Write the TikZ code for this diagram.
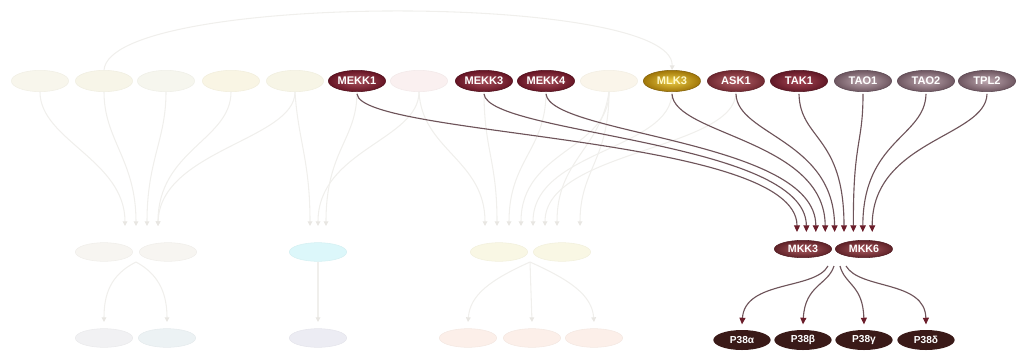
\documentclass[tikz,border=0pt]{standalone}
\usepackage{fontspec}
\setmainfont{Liberation Sans}
\usetikzlibrary{shapes.geometric,arrows.meta}
\definecolor{linec}{HTML}{6E545A}
\definecolor{tipc}{HTML}{6B1D2A}
\definecolor{fadeline}{HTML}{F0EFEC}
\definecolor{fadetip}{HTML}{E8E6E2}
\definecolor{mekkin}{HTML}{A8505C}
\definecolor{mekkout}{HTML}{661424}
\definecolor{mekkdr}{HTML}{4E0E1A}
\definecolor{mlkin}{HTML}{ECCC46}
\definecolor{mlkout}{HTML}{A07608}
\definecolor{mlkdr}{HTML}{82600A}
\definecolor{mlktx}{HTML}{FFFAC8}
\definecolor{askin}{HTML}{B6626A}
\definecolor{askout}{HTML}{702830}
\definecolor{askdr}{HTML}{5C1E26}
\definecolor{takin}{HTML}{A84654}
\definecolor{takout}{HTML}{601826}
\definecolor{takdr}{HTML}{50141E}
\definecolor{taoin}{HTML}{BEA8B0}
\definecolor{taoout}{HTML}{6E5660}
\definecolor{taodr}{HTML}{5A4650}
\definecolor{mkkin}{HTML}{AA5A60}
\definecolor{mkkout}{HTML}{602228}
\definecolor{mkkdr}{HTML}{501C22}
\definecolor{pttc}{HTML}{3A1A18}
\definecolor{fa}{HTML}{F8F6EC}
\definecolor{fb}{HTML}{F7F5E8}
\definecolor{fc}{HTML}{F6F6EE}
\definecolor{fd}{HTML}{F9F5E4}
\definecolor{fe}{HTML}{F7F5E6}
\definecolor{ff}{HTML}{FAF0F0}
\definecolor{fg}{HTML}{FAF5EA}
\definecolor{ma}{HTML}{F7F5F1}
\definecolor{mc}{HTML}{DCF7FA}
\definecolor{my}{HTML}{F9F7E4}
\definecolor{ba}{HTML}{F1F1F3}
\definecolor{bb}{HTML}{ECF2F4}
\definecolor{bc}{HTML}{ECECF3}
\definecolor{bp}{HTML}{FCEFE9}
\tikzset{
  gene/.style={ellipse, minimum width=43pt, minimum height=16pt, inner sep=0pt,
    font=\fontsize{8.3}{9}\selectfont\bfseries, text=white},
  mekk/.style={gene, inner color=mekkin, outer color=mekkout, draw=mekkdr},
  mlk/.style={gene, inner color=mlkin, outer color=mlkout, draw=mlkdr, text=mlktx},
  ask/.style={gene, inner color=askin, outer color=askout, draw=askdr},
  tak/.style={gene, inner color=takin, outer color=takout, draw=takdr},
  tao/.style={gene, inner color=taoin, outer color=taoout, draw=taodr},
  mkk/.style={gene, minimum height=13pt, font=\fontsize{8}{9}\selectfont\bfseries, inner color=mkkin, outer color=mkkout, draw=mkkdr},
  ptt/.style={gene, minimum height=15pt, fill=pttc, font=\fontsize{7.6}{9}\selectfont\bfseries},
  fade/.style={ellipse, minimum width=43pt, minimum height=16pt, inner sep=0pt, fill=#1, draw=#1!97!black},
  fadesm/.style={fade=#1, minimum height=14pt},
  arr/.style={draw=linec, line width=0.85pt, -{Triangle[length=5pt,width=4.5pt,color=tipc]}},
  farr/.style={draw=fadeline, line width=0.8pt, -{Triangle[length=3.5pt,width=3.5pt,color=fadetip]}},
}
\begin{document}
\begin{tikzpicture}[x=0.75pt,y=-0.75pt]
\useasboundingbox (0,0) rectangle (1017,354);
% top row
\node[fade=fa] (n1) at (40,81) {};
\node[fade=fb] (n2) at (104,81) {};
\node[fade=fc] (n3) at (166,81) {};
\node[fade=fd] (n4) at (231,81) {};
\node[fade=fe] (n5) at (295,81) {};
\node[mekk] (mekk1) at (357,81) {MEKK1};
\node[fade=ff] (n7) at (419,81) {};
\node[mekk] (mekk3) at (484,81) {MEKK3};
\node[mekk] (mekk4) at (546,81) {MEKK4};
\node[fade=fg] (n10) at (609,81) {};
\node[mlk] (mlk3) at (672,81) {MLK3};
\node[ask] (ask1) at (736,81) {ASK1};
\node[tak] (tak1) at (799,81) {TAK1};
\node[tao] (tao1) at (863,81) {TAO1};
\node[tao] (tao2) at (926,81) {TAO2};
\node[tao] (tpl2) at (987,81) {TPL2};
% middle row
\node[fadesm=ma] (m1) at (104,252) {};
\node[fadesm=ma] (m2) at (168,252) {};
\node[fadesm=mc] (m3) at (318,252) {};
\node[fadesm=my] (m4) at (499,252) {};
\node[fadesm=my] (m5) at (562,252) {};
\node[mkk] (mkk3) at (803,249) {MKK3};
\node[mkk] (mkk6) at (864,249) {MKK6};
% bottom row
\node[fadesm=ba] (b1) at (104,338) {};
\node[fadesm=bb] (b2) at (167,338) {};
\node[fadesm=bc] (b3) at (318,338) {};
\node[fadesm=bp] (b4) at (468,338) {};
\node[fadesm=bp] (b5) at (532,338) {};
\node[fadesm=bp] (b6) at (594,338) {};
\node[ptt] (pa) at (742,340) {P38α};
\node[ptt] (pb) at (803,340) {P38β};
\node[ptt] (pg) at (864,340) {P38γ};
\node[ptt] (pd) at (926,340) {P38δ};
% faded connector end points
\coordinate (f1) at (125,226); \coordinate (f2) at (136,226);
\coordinate (f3) at (147,226); \coordinate (f4) at (158,226);
\coordinate (g1) at (310,226); \coordinate (g2) at (318,226); \coordinate (g3) at (326,226);
\coordinate (h1) at (485,226); \coordinate (h2) at (497,226); \coordinate (h3) at (509,226);
\coordinate (h4) at (521,226); \coordinate (h5) at (533,226); \coordinate (h6) at (545,226);
\coordinate (h7) at (557,226); \coordinate (h8) at (580,226);
\draw[farr] (n1.south) .. controls (40,140) and (125,160) .. (f1);
\draw[farr] (n2.south) .. controls (104,140) and (136,160) .. (f2);
\draw[farr] (n3.south) .. controls (166,140) and (147,160) .. (f3);
\draw[farr] (n4.south) .. controls (231,140) and (158,150) .. (f4);
\draw[farr] (n5.south) .. controls (295,140) and (160,150) .. (f4);
\draw[farr] (n5.south) .. controls (298,140) and (310,160) .. (g1);
\draw[farr] (n7.south) .. controls (419,140) and (318,150) .. (g2);
\draw[farr] (mekk1.south) .. controls (357,140) and (326,150) .. (g3);
\draw[farr] (n7.south) .. controls (422,150) and (485,160) .. (h1);
\draw[farr] (mekk3.south) .. controls (484,150) and (497,160) .. (h2);
\draw[farr] (mekk4.south) .. controls (546,150) and (509,160) .. (h3);
\draw[farr] (n10.south) .. controls (609,150) and (521,150) .. (h4);
\draw[farr] (mlk3.south) .. controls (672,150) and (533,150) .. (h5);
\draw[farr] (ask1.south) .. controls (736,150) and (545,150) .. (h6);
\draw[farr] (n10.south) .. controls (600,150) and (557,160) .. (h7);
\draw[farr] (n10.south) .. controls (609,160) and (580,170) .. (h8);
\draw[farr] (n2.north) .. controls (110,-8) and (675,-8) .. (mlk3.north);
\coordinate (k1) at (104,322); \coordinate (k2) at (167,322);
\coordinate (k3) at (318,322);
\coordinate (k4) at (468,322); \coordinate (k5) at (532,322); \coordinate (k6) at (594,322);
\coordinate (j1) at (136,262); \coordinate (j2) at (530,262);
\draw[farr] (j1) .. controls (110,275) and (104,295) .. (k1);
\draw[farr] (j1) .. controls (160,275) and (167,295) .. (k2);
\draw[farr] (m3.south) -- (k3);
\draw[farr] (j2) .. controls (490,280) and (470,295) .. (k4);
\draw[farr] (j2) -- (k5);
\draw[farr] (j2) .. controls (570,280) and (592,295) .. (k6);
% main arrows into MKK3/MKK6
\coordinate (t1) at (797,232); \coordinate (t2) at (806.4,232);
\coordinate (t3) at (815.8,232); \coordinate (t4) at (825.2,232);
\coordinate (t5) at (834.6,232); \coordinate (t6) at (844,232);
\coordinate (t7) at (853.4,232); \coordinate (t8) at (862.8,232);
\coordinate (t9) at (872.2,232);
\draw[arr] ([yshift=-1.5pt]mekk1.south) .. controls (361,137) and (797,135) .. (t1);
\draw[arr] ([yshift=-1.5pt]mekk3.south) .. controls (488,135) and (806,140) .. (t2);
\draw[arr] ([yshift=-1.5pt]mekk4.south) .. controls (550,135) and (816,140) .. (t3);
\draw[arr] ([yshift=-1.5pt]mlk3.south) .. controls (674,135) and (825,140) .. (t4);
\draw[arr] ([yshift=-1.5pt]ask1.south) .. controls (737,135) and (834,140) .. (t5);
\draw[arr] ([yshift=-1.5pt]tak1.south) .. controls (800,140) and (844,135) .. (t6);
\draw[arr] ([yshift=-1.5pt]tao1.south) .. controls (863,145) and (853,140) .. (t7);
\draw[arr] ([yshift=-1.5pt]tao2.south) .. controls (925,137) and (863,140) .. (t8);
\draw[arr] ([yshift=-1.5pt]tpl2.south) .. controls (986,137) and (872,140) .. (t9);
% arrows to P38 family
\coordinate (s1) at (828,266); \coordinate (s2) at (834,266);
\coordinate (s3) at (840,266); \coordinate (s4) at (846,266);
\draw[arr] (s1) .. controls (815,290) and (745,280) .. ([yshift=4pt]pa.north);
\draw[arr] (s2) .. controls (828,285) and (805,285) .. ([yshift=4pt]pb.north);
\draw[arr] (s3) .. controls (845,285) and (863,285) .. ([yshift=4pt]pg.north);
\draw[arr] (s4) .. controls (860,290) and (925,280) .. ([yshift=4pt]pd.north);
\end{tikzpicture}
\end{document}
